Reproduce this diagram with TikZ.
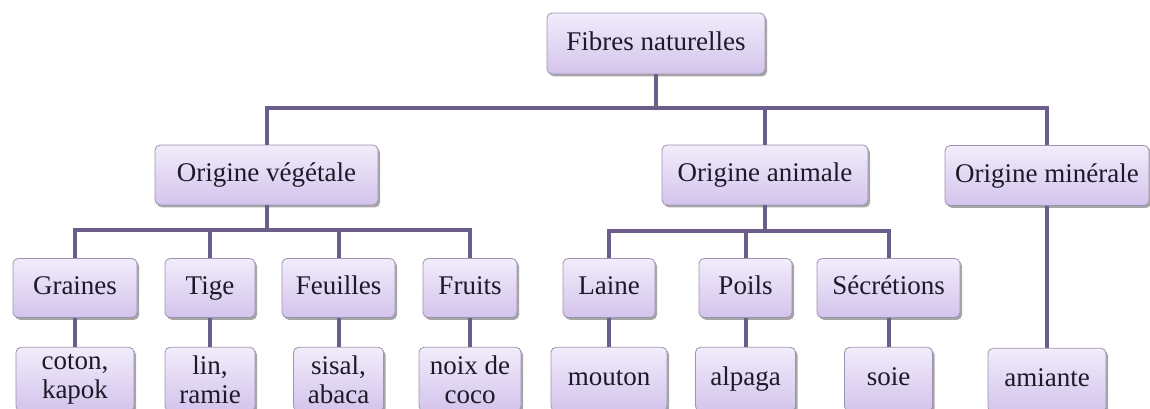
\documentclass[tikz,border=0pt]{standalone}
\usepackage{fontspec}
\setmainfont{Liberation Serif}
\usepackage{xcolor}
\usepackage{tikz}
\usetikzlibrary{positioning,shadows}
\definecolor{linkcol}{HTML}{6B5E8A}
\definecolor{boxtop}{HTML}{F2ECFB}
\definecolor{boxbot}{HTML}{D3C4EC}
\definecolor{boxline}{HTML}{9C93B0}
\definecolor{inktext}{HTML}{1C1A28}

\begin{document}
\begin{tikzpicture}[x=0.5pt, y=-0.5pt,
  font=\fontsize{13.5}{14.5}\selectfont,
  box/.style={draw=boxline, rounded corners=2.5pt, top color=boxtop, bottom color=boxbot,
              drop shadow={shadow xshift=1pt, shadow yshift=-1.2pt, fill=black, opacity=0.35},
              align=center, inner sep=0pt, minimum height=29.5pt, text=inktext,
              text height=9.5pt, text depth=3pt},
  leaf/.style={box, minimum height=32pt},
  twoline/.style={text height={}, text depth={}},
  link/.style={draw=linkcol, line width=2pt}]
\useasboundingbox (0,0) rectangle (1150,408);
% racine et origines
\node[box, minimum width=109pt, minimum height=30.5pt] (fibres) at (656,43.5) {Fibres naturelles};
\node[box, minimum width=111.5pt, minimum height=30pt] (veg) at (266.5,175) {Origine végétale};
\node[box, minimum width=103pt, minimum height=30pt] (ani) at (765,175) {Origine animale};
\node[box, minimum width=102pt, minimum height=30pt] (min) at (1047,175.5) {Origine minérale};
% familles
\node[box, minimum width=62pt] (graines) at (75,288) {Graines};
\node[box, minimum width=45pt] (tige) at (210,288) {Tige};
\node[box, minimum width=56.5pt] (feuilles) at (338.5,288) {Feuilles};
\node[box, minimum width=47pt] (fruits) at (470,288) {Fruits};
\node[box, minimum width=46pt] (laine) at (609,288) {Laine};
\node[box, minimum width=46.5pt] (poils) at (745.5,288) {Poils};
\node[box, minimum width=71.5pt] (secr) at (888.5,288) {Sécrétions};
% exemples
\node[leaf, twoline, minimum width=59pt, below=14.5pt of graines] (coton) {coton,\\kapok};
\node[leaf, twoline, minimum width=45pt, below=14.5pt of tige] (lin) {lin,\\ramie};
\node[leaf, twoline, minimum width=45pt, below=14.5pt of feuilles] (sisal) {sisal,\\abaca};
\node[leaf, twoline, minimum width=51pt, below=14.5pt of fruits] (noix) {noix de\\coco};
\node[leaf, minimum width=58pt, below=14.5pt of laine] (mouton) {mouton};
\node[leaf, minimum width=50pt, below=14.5pt of poils] (alpaga) {alpaga};
\node[leaf, minimum width=44pt, below=14.5pt of secr] (soie) {soie};
\node[leaf, minimum width=59pt, below=71pt of min] (amiante) {amiante};
% liaisons
\foreach \c in {veg,ani,min}
  \draw[link] (fibres.south) -- ++(0,34) -| (\c.north);
\foreach \c in {graines,tige,feuilles,fruits}
  \draw[link] (veg.south) -- ++(0,25) -| (\c.north);
\foreach \c in {laine,poils,secr}
  \draw[link] (ani.south) -- ++(0,26) -| (\c.north);
\foreach \a/\b in {graines/coton,tige/lin,feuilles/sisal,fruits/noix,
                   laine/mouton,poils/alpaga,secr/soie,min/amiante}
  \draw[link] (\a.south) -- (\b.north);
\end{tikzpicture}
\end{document}
